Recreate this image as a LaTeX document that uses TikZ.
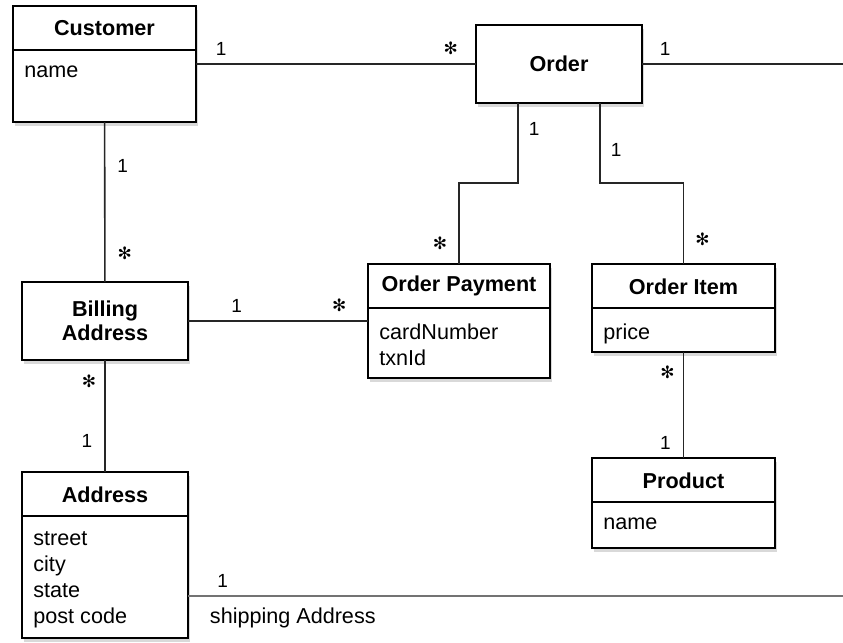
\documentclass[tikz,border=0pt]{standalone}
\usepackage{fontspec}
\setmainfont{Liberation Sans}
\newfontfamily\starfont{DejaVu Sans}
\usetikzlibrary{positioning,calc,shadows}
\tikzset{
    classbox/.style = {
        draw,
        shape=rectangle,
        line width=1pt,
        outer sep=0pt,
        fill=white,
        align=center,
        font=\bfseries\fontsize{10.8}{12}\selectfont,
        drop shadow={shadow xshift=1.2pt, shadow yshift=-2pt, opacity=0.3}
    },
    classname/.style = {
        anchor=north,
        minimum height=22pt,
        font=\bfseries\fontsize{10.8}{12}\selectfont
    },
    divider/.style = {
        line width=0.9pt
    },
    attrs/.style = {
        anchor=north west,
        align=left,
        inner xsep=5.5pt,
        inner ysep=7.5pt,
        font=\fontsize{10.8}{13}\selectfont
    },
    assoc/.style = {
        line width=0.8pt,
        black!85
    },
    mult/.style = {
        inner sep=4pt,
        text=black,
        font=\fontsize{9.5}{10}\selectfont
    },
    many/.style = {
        inner sep=4pt,
        text=black,
        font=\starfont\fontsize{8.5}{9}\selectfont
    },
}

\begin{document}
\begin{tikzpicture}[x=0.5pt, y=-0.5pt]
    \useasboundingbox (0,0) rectangle (843,643);

    % classes
    \node[classbox, minimum width=91.5pt, minimum height=58pt] (cust) at (104.5,64) {};
    \node[classbox, minimum width=83pt, minimum height=39pt] (order) at (559,64) {Order};
    \node[classbox, minimum width=83pt, minimum height=39pt] (bill) at (105,321) {Billing\\Address};
    \node[classbox, minimum width=91pt, minimum height=57pt] (pay) at (459,321) {};
    \node[classbox, minimum width=91.5pt, minimum height=44pt] (item) at (683.5,308) {};
    \node[classbox, minimum width=91.5pt, minimum height=45pt] (prod) at (683.5,503) {};
    \node[classbox, minimum width=83pt, minimum height=83pt] (addr) at (105,555) {};

    \node[classname] at (cust.north) {Customer};
    \node[classname] at (pay.north) {Order Payment};
    \node[classname] at (item.north) {Order Item};
    \node[classname] at (prod.north) {Product};
    \node[classname] at (addr.north) {Address};

    \foreach \c in {cust,pay,item,prod,addr}
        \draw[divider] ([yshift=-22pt]\c.north west) -- ([yshift=-22pt]\c.north east);

    \node[attrs] at ([yshift=-22pt]cust.north west) {name};
    \node[attrs] at ([yshift=-22pt]pay.north west) {cardNumber\\txnId};
    \node[attrs] at ([yshift=-22pt]item.north west) {price};
    \node[attrs] at ([yshift=-22pt]prod.north west) {name};
    \node[attrs] at ([yshift=-22pt]addr.north west) {street\\city\\state\\post code};

    % associations
    \coordinate (edgeR) at (843,64);
    \coordinate (edgeS) at (843,596);

    \draw[assoc] (cust) -- (order)
        node[mult, pos=.09, above] {1} node[many, pos=.91, above] {✻};
    \draw[assoc] (order) -- (edgeR) node[mult, pos=.115, above] {1};
    \draw[assoc] (cust) -- (bill)
        node[mult, pos=.275, right, xshift=2pt] {1} node[many, pos=.82, right, xshift=2pt] {✻};
    \draw[assoc] (bill) -- (pay)
        node[mult, pos=.27, above] {1} node[many, pos=.84, above] {✻};
    \draw[assoc] ([xshift=-20.5pt]order.south) -- ++(0,80) node[mult, pos=.33, right, xshift=1pt] {1}
        -| (pay.north) node[many, pos=.87, left, xshift=-1.5pt] {✻};
    \draw[assoc] ([xshift=20.5pt]order.south) -- ++(0,80) node[mult, pos=.59, right, xshift=1pt] {1}
        -| (item.north) node[many, pos=.85, right, xshift=1.5pt] {✻};
    \draw[assoc] (item) -- (prod)
        node[many, pos=.19, left] {✻} node[mult, pos=.86, left, xshift=-2pt] {1};
    \draw[assoc] (bill) -- (addr)
        node[many, pos=.19, left] {✻} node[mult, pos=.72, left, xshift=-2pt] {1};
    \draw[assoc, black!55] ([yshift=-20.5pt]addr.east) -- (edgeS)
        node[mult, pos=.053, above] {1}
        node[pos=.16, below=2pt, text=black, font=\fontsize{10.8}{12}\selectfont] {shipping Address};
\end{tikzpicture}
\end{document}
